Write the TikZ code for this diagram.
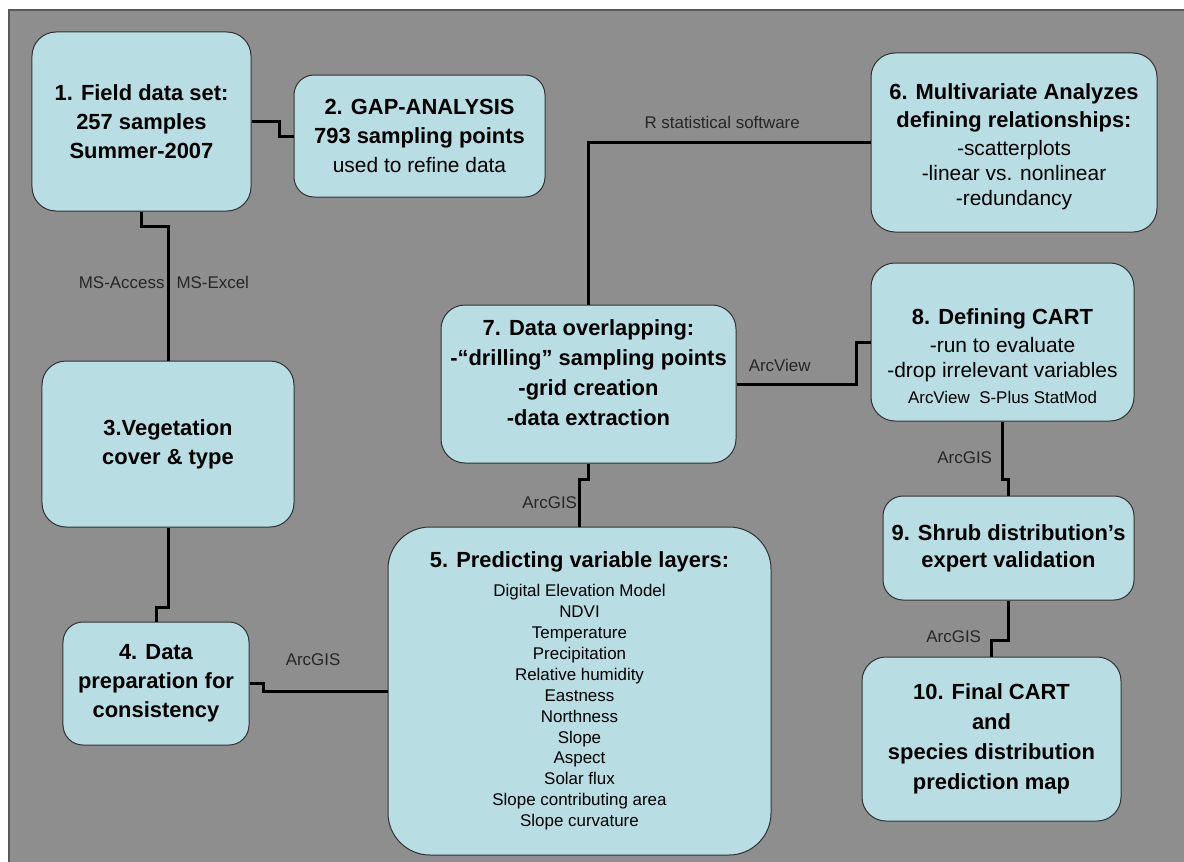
\documentclass[tikz,border=0pt]{standalone}
\usepackage{fontspec}
\setmainfont{Liberation Sans}
\usepackage{xcolor}
\usepackage{tikz}

\definecolor{bggray}{RGB}{142,142,142}
\definecolor{boxfill}{RGB}{184,222,228}
\definecolor{boxedge}{RGB}{50,50,50}

\newcommand{\bigb}{\fontsize{22}{29}\selectfont\bfseries}
\newcommand{\regl}{\fontsize{21}{25}\selectfont\mdseries}
\newcommand{\smll}{\fontsize{17}{21}\selectfont\mdseries}

\begin{document}
\begin{tikzpicture}[
  x=1bp, y=-1bp,
  stagenode/.style={
    draw=boxedge,
    fill=boxfill,
    line width=1bp,
    rounded corners=24bp,
    align=center,
    inner sep=0pt,
    font=\bigb
  },
  link/.style={line width=3bp, black},
  toollabel/.style={font=\fontsize{17}{19}\selectfont, inner sep=0pt, text=black!85}
]

\useasboundingbox (0,0) rectangle (1184,862);
\filldraw[fill=bggray, draw=black!65, line width=1.5bp] (9,10) rectangle (1195,875);

% Boxes
\node[stagenode, minimum width=219bp, minimum height=179bp] (field) at (141.5,121.5)
  {1. Field data set:\\257 samples\\Summer-2007};
\node[stagenode, rounded corners=20bp, minimum width=251bp, minimum height=122bp] (gap) at (419.5,136)
  {2. GAP-ANALYSIS\\793 sampling points\\{\regl used to refine data}};
\node[stagenode, minimum width=252bp, minimum height=166bp] (veg) at (168,444)
  {3.Vegetation\\cover \& type};
\node[stagenode, rounded corners=20bp, minimum width=186bp, minimum height=123bp] (prep) at (156,683.5)
  {4. Data\\preparation for\\consistency};
\node[stagenode, rounded corners=42bp, minimum width=383bp, minimum height=328bp,
  font=\fontsize{17}{21}\selectfont] (pred) at (579.5,691)
  {{\bigb 5. Predicting variable layers:}\\[8bp]
   Digital Elevation Model\\NDVI\\Temperature\\Precipitation\\Relative humidity\\
   Eastness\\Northness\\Slope\\Aspect\\Solar flux\\Slope contributing area\\Slope curvature};
\node[stagenode, minimum width=286bp, minimum height=179bp, font=\regl] (multi) at (1014,142.5)
  {\mbox{}\\[-1bp]{\bigb 6. Multivariate Analyzes}\\[3bp]{\bigb defining relationships:}\\[3bp]
   -scatterplots\\-linear vs. nonlinear\\-redundancy};
\node[stagenode, minimum width=295bp, minimum height=158bp,
  font=\fontsize{22}{30}\selectfont\bfseries] (overlap) at (588.5,384)
  {7. Data overlapping:\\-“drilling” sampling points\\-grid creation\\-data extraction\\[-7bp]\mbox{}};
\node[stagenode, minimum width=263bp, minimum height=158bp, font=\regl] (cart) at (1002.5,342)
  {\mbox{}\\[19bp]{\bigb 8. Defining CART}\\[4bp]-run to evaluate\\-drop irrelevant variables\\[1bp]
   {\smll ArcView~~S-Plus StatMod}};
\node[stagenode, rounded corners=20bp, minimum width=251bp, minimum height=104bp,
  font=\fontsize{22}{27}\selectfont\bfseries] (shrub) at (1008.5,548)
  {9. Shrub distribution's\\expert validation};
\node[stagenode, minimum width=259bp, minimum height=164bp,
  font=\fontsize{22}{30}\selectfont\bfseries] (final) at (991.5,739)
  {10. Final CART\\and\\species distribution\\prediction map};

% Links
\draw[link] (field.east) -- ++(28,0) |- (gap.west);
\draw[link] (field.south) -- ++(0,15) -| (veg.north)
  node[toollabel, pos=0.71, left=2bp] {MS-Access}
  node[toollabel, pos=0.71, right=7bp] {MS-Excel};
\draw[link] (veg.south) -- ++(0,80) -| (prep.north);
\draw[link] (prep.east) -- ++(14,0) |- (pred.west)
  node[toollabel, pos=0.7, yshift=31bp] {ArcGIS};
\draw[link] (overlap.south) -- ++(0,16) -| (pred.north)
  node[toollabel, pos=0.75, left=1bp] {ArcGIS};
\draw[link] (overlap.north) |- (multi.west)
  node[toollabel, pos=0.737, yshift=20bp] {R statistical software};
\draw[link] (overlap.east) -- ++(120,0)
  node[toollabel, pos=0.36, yshift=19bp] {ArcView} |- (cart.west);
\draw[link] (cart.south) -- ++(0,58)
  node[toollabel, pos=0.62, left=9bp] {ArcGIS} -| (shrub.north);
\draw[link] (shrub.south) -- ++(0,40) -| (final.north)
  node[toollabel, pos=0.5, left=9bp, yshift=4bp] {ArcGIS};

\end{tikzpicture}
\end{document}
